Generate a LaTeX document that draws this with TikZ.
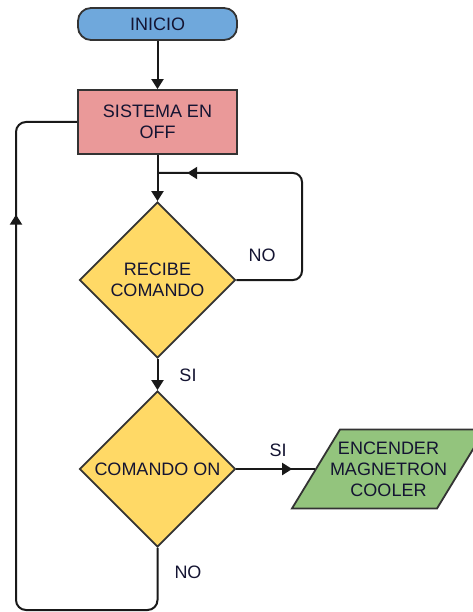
\documentclass[tikz,border=0pt]{standalone}
\usepackage{fontspec}
\setmainfont{Liberation Sans}
\usetikzlibrary{shapes.geometric}
\usetikzlibrary{arrows.meta}
\usetikzlibrary{decorations.markings}
\definecolor{azulinicio}{HTML}{6FA8DC}
\definecolor{rojoestado}{HTML}{EA9999}
\definecolor{amarillodec}{HTML}{FFD966}
\definecolor{verdesalida}{HTML}{93C47D}
\definecolor{borde}{HTML}{333333}
\definecolor{letra}{HTML}{141432}
\tikzset{
  bloque/.style={draw=borde, line width=1.8pt, font=\fontsize{18}{21}\selectfont, text=letra, align=center, inner sep=0pt},
  inicio/.style={bloque, fill=azulinicio, rounded corners=13pt, minimum width=159pt, minimum height=32pt},
  estado/.style={bloque, fill=rojoestado, minimum width=159pt, minimum height=64pt},
  decision/.style={bloque, diamond, fill=amarillodec, minimum width=156pt, minimum height=156pt},
  salida/.style={bloque, trapezium, trapezium left angle=58.7, trapezium right angle=121.3, fill=verdesalida, inner xsep=48.5pt, inner ysep=39.5pt},
  linea/.style={line width=2pt, draw=black!90},
  flecha/.style={linea, -{Triangle[length=10pt,width=12pt]}},
  flechamedio/.style={linea, decoration={markings, mark=at position #1 with {\arrow{Triangle[length=10pt,width=12pt]}}}, postaction={decorate}},
  etiqueta/.style={font=\fontsize{18}{21}\selectfont, text=letra, inner sep=0pt, align=center}
}

\begin{document}
\begin{tikzpicture}[x=1pt, y=-1pt]
\useasboundingbox (0,0) rectangle (472,612);
% bloques
\node[inicio] (inicio) at (157.5,24) {INICIO};
\node[estado] (sistema) at (157.5,122) {SISTEMA EN\\OFF};
\node[decision] (recibe) at (157.5,280) {RECIBE\\COMANDO};
\node[decision] (comon) at (157.5,469) {COMANDO ON};
\node[salida] (encender) at (388.5,469) {};
\node[etiqueta] (encendertexto) at (encender.center) {ENCENDER\\MAGNETRON\\COOLER};
% puntos de los retornos
\coordinate (junta) at (157.5,173);
\coordinate (esqder) at (302,280);
\coordinate (fondo) at (157.5,610);
\coordinate (esqizq) at (16,610);
% flujo principal
\draw[flecha] (inicio) -- (sistema);
\draw[flecha] (sistema) -- (recibe);
\draw[flecha] (recibe) -- (comon);
\draw[flechamedio=0.71] (comon) -- (encender);
% retornos
\draw[flechamedio=0.904, rounded corners=9pt] (recibe.east) -- (esqder) |- (junta);
\draw[flechamedio=0.798, rounded corners=10pt] (comon.south) -- (fondo) -- (esqizq) |- (sistema.west);
% etiquetas
\node[etiqueta] (no1) at (262,255) {NO};
\node[etiqueta] (si1) at (188,375) {SI};
\node[etiqueta] (si2) at (278,450) {SI};
\node[etiqueta] (no2) at (188,572) {NO};
\end{tikzpicture}
\end{document}
